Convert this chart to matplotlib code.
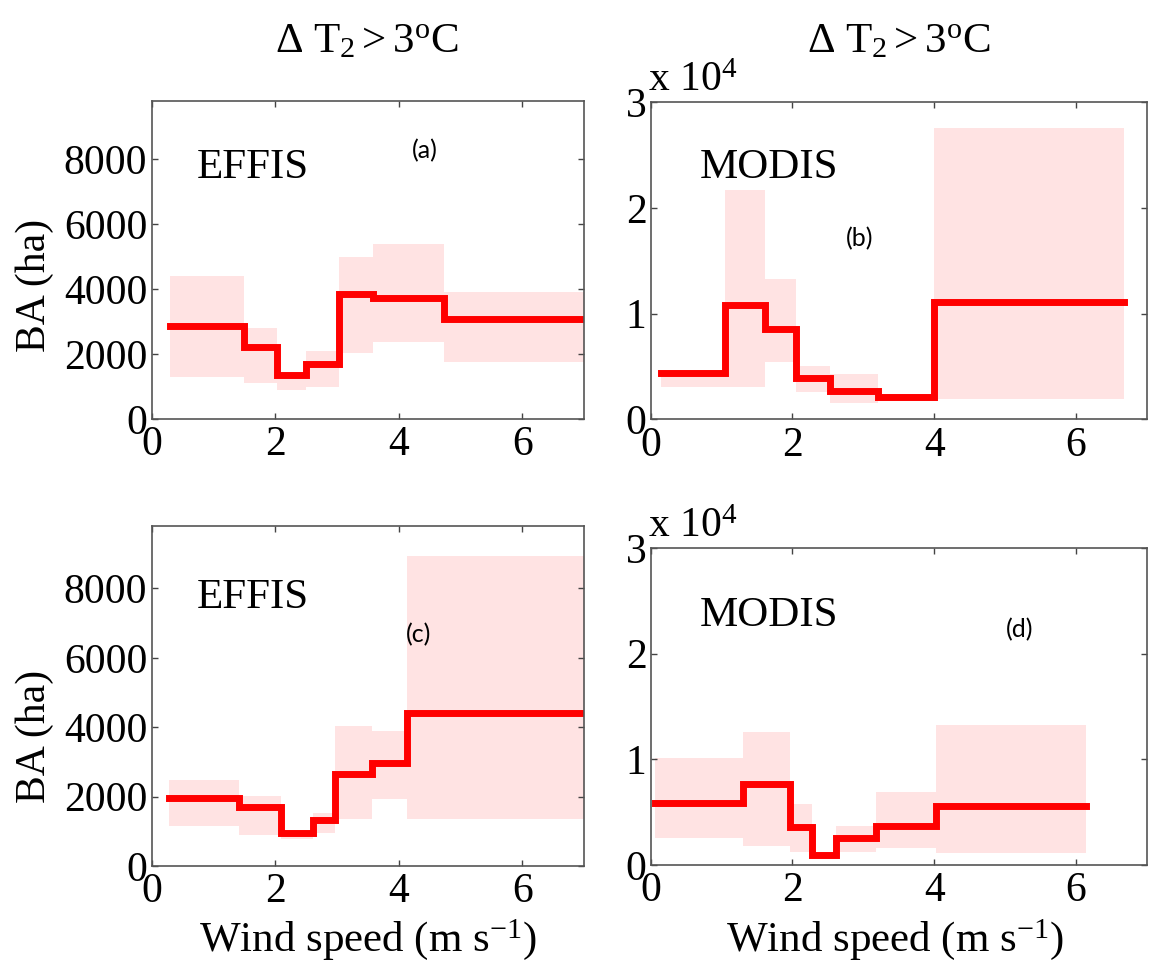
import numpy as np
import matplotlib
matplotlib.use("Agg")
import matplotlib.pyplot as plt

plt.rcParams['font.family'] = ['Liberation Serif', 'DejaVu Serif']
plt.rcParams['mathtext.fontset'] = 'custom'
plt.rcParams['mathtext.rm'] = 'Liberation Serif'
plt.rcParams['mathtext.it'] = 'Liberation Serif:italic'

# bin edges (wind speed, m/s) and burned area (ha) per bin
edges_a = [0.30, 1.50, 2.03, 2.50, 3.03, 3.58, 4.73, 7.00]
ba_a = [2870, 2215, 1345, 1690, 3845, 3715, 3090]
hi_a = [4400, 2810, 1420, 2100, 4995, 5385, 3910]
lo_a = [1290, 1100, 885, 975, 2040, 2370, 1745]

edges_b = [0.14, 1.05, 1.62, 2.05, 2.53, 3.20, 4.00, 6.67]
ba_b = [4400, 10800, 8500, 3900, 2650, 2100, 11050]
hi_b = [4600, 21700, 13300, 5000, 4300, 2300, 27550]
lo_b = [3100, 3100, 5400, 2600, 1500, 1900, 1900]

edges_c = [0.29, 1.42, 2.09, 2.61, 2.97, 3.57, 4.13, 7.00]
ba_c = [1955, 1695, 940, 1325, 2645, 2965, 4410]
hi_c = [2475, 2020, 1000, 1540, 4045, 3900, 8940]
lo_c = [1155, 900, 770, 960, 1345, 1940, 1345]

edges_d = [0.06, 1.31, 1.97, 2.27, 2.62, 3.18, 4.03, 6.14]
ba_d = [5900, 7650, 3600, 960, 2550, 3730, 5580]
hi_d = [10140, 12540, 5740, 1200, 3730, 6900, 13240]
lo_d = [2550, 1800, 1270, 800, 1270, 1600, 1100]

panel_labels = ['(a)', '(b)', '(c)', '(d)']
sources = ['EFFIS', 'MODIS', 'EFFIS', 'MODIS']
title_txt = r'$\Delta\ \mathrm{T}_{2} > 3^{\mathrm{o}}\mathrm{C}$'

W, H = 1149, 969
fig = plt.figure(figsize=(W / 100, H / 100), dpi=100)


def px_axes(left, right, top, bottom):
    return fig.add_axes([left / W, (H - bottom) / H, (right - left) / W, (bottom - top) / H])


def draw_panel(ax, edges, ba, hi, lo, scale=1.0):
    x = np.array(edges)
    y = np.append(ba, ba[-1]) / scale
    yh = np.append(hi, hi[-1]) / scale
    yl = np.append(lo, lo[-1]) / scale
    ax.fill_between(x, yl, yh, step='post', color='#ffe3e3', linewidth=0)
    ax.step(x, y, where='post', color='red', linewidth=5, solid_joinstyle='miter')
    ax.set_xlim(0, 7)
    ax.set_xticks([0, 2, 4, 6])
    ax.tick_params(direction='in', length=4, width=1, labelsize=30, top=True, right=True,
                   color='#444444')
    ax.tick_params(axis='x', pad=5)
    ax.tick_params(axis='y', pad=3)
    for s in ax.spines.values():
        s.set_color('#555555')
        s.set_linewidth(1.2)


ax_a = px_axes(151.5, 584, 101, 419)
ax_b = px_axes(650.6, 1147, 102, 419.3)
ax_c = px_axes(151.5, 584, 526, 866)
ax_d = px_axes(650.6, 1147, 548, 865)
axes = [ax_a, ax_b, ax_c, ax_d]

draw_panel(ax_a, edges_a, ba_a, hi_a, lo_a)
draw_panel(ax_b, edges_b, ba_b, hi_b, lo_b, scale=1e4)
draw_panel(ax_c, edges_c, ba_c, hi_c, lo_c)
draw_panel(ax_d, edges_d, ba_d, hi_d, lo_d, scale=1e4)

for ax in [ax_a, ax_c]:
    ax.set_ylim(0, 9800)
    ax.set_yticks([0, 2000, 4000, 6000, 8000])
for ax in [ax_b, ax_d]:
    ax.set_ylim(0, 3)
    ax.set_yticks([0, 1, 2, 3])
    ax.text(-0.005, 1.005, r'x 10$^{4}$', transform=ax.transAxes, fontsize=30,
            ha='left', va='bottom')

src_pos = [(0.105, 0.758), (0.0995, 0.760), (0.105, 0.759), (0.0995, 0.754)]
lab_pos = [(0.632, 0.843), (0.422, 0.570), (0.617, 0.679), (0.744, 0.741)]
for ax, src, lab, sp, lp in zip(axes, sources, panel_labels, src_pos, lab_pos):
    ax.text(sp[0], sp[1], src, transform=ax.transAxes, fontsize=31, va='baseline', ha='left')
    ax.text(lp[0], lp[1], lab, transform=ax.transAxes, fontsize=18, ha='center', va='center',
            family=['Lato', 'DejaVu Sans'])

fig.text(367 / W, 1 - 42 / H, title_txt, fontsize=31, ha='center', va='center')
fig.text(899 / W, 1 - 42 / H, title_txt, fontsize=31, ha='center', va='center')

fig.text(35 / W, 1 - 285 / H, 'BA (ha)', fontsize=30, rotation=90, ha='center', va='center')
fig.text(35 / W, 1 - 736 / H, 'BA (ha)', fontsize=30, rotation=90, ha='center', va='center')

xl = r'Wind speed (m s$^{-1}$)'
fig.text(368 / W, 1 - 940 / H, xl, fontsize=31, ha='center', va='center')
fig.text(895 / W, 1 - 940 / H, xl, fontsize=31, ha='center', va='center')

fig.savefig('out.png', dpi=100)
